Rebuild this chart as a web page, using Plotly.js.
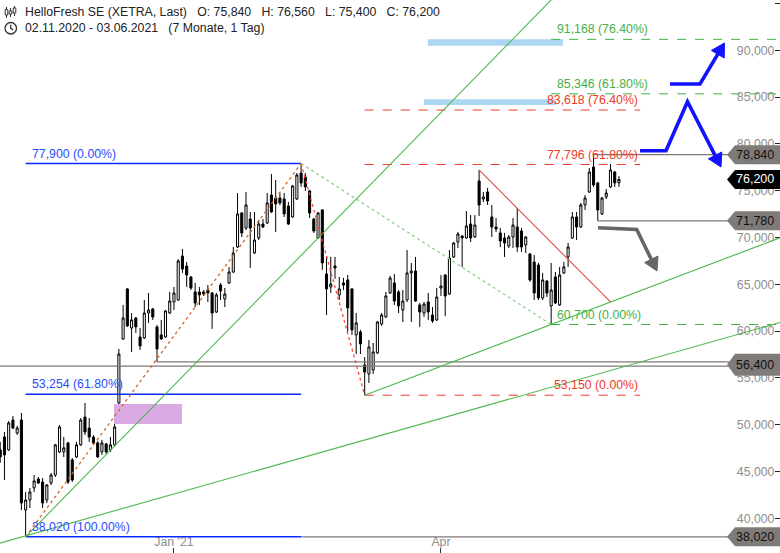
<!DOCTYPE html>
<html><head><meta charset="utf-8">
<script src="https://cdn.plot.ly/plotly-3.0.1.min.js"></script>
<style>html,body{margin:0;padding:0;background:#fff}#chart{width:780px;height:553px}</style>
</head><body><div id="chart"></div>
<script>
// ---- data (EUR) ----
const dates = [
'2020-11-02','2020-11-03','2020-11-04','2020-11-05','2020-11-06','2020-11-09','2020-11-10','2020-11-11','2020-11-12','2020-11-13',
'2020-11-16','2020-11-17','2020-11-18','2020-11-19','2020-11-20','2020-11-23','2020-11-24','2020-11-25','2020-11-26','2020-11-27','2020-11-30',
'2020-12-01','2020-12-02','2020-12-03','2020-12-04','2020-12-07','2020-12-08','2020-12-09','2020-12-10','2020-12-11',
'2020-12-14','2020-12-15','2020-12-16','2020-12-17','2020-12-18','2020-12-21','2020-12-22','2020-12-23','2020-12-28','2020-12-29','2020-12-30',
'2021-01-04','2021-01-05','2021-01-06','2021-01-07','2021-01-08','2021-01-11','2021-01-12','2021-01-13','2021-01-14','2021-01-15',
'2021-01-18','2021-01-19','2021-01-20','2021-01-21','2021-01-22','2021-01-25','2021-01-26','2021-01-27','2021-01-28','2021-01-29',
'2021-02-01','2021-02-02','2021-02-03','2021-02-04','2021-02-05','2021-02-08','2021-02-09','2021-02-10','2021-02-11','2021-02-12',
'2021-02-15','2021-02-16','2021-02-17','2021-02-18','2021-02-19','2021-02-22','2021-02-23','2021-02-24','2021-02-25','2021-02-26',
'2021-03-01','2021-03-02','2021-03-03','2021-03-04','2021-03-05','2021-03-08','2021-03-09','2021-03-10','2021-03-11','2021-03-12',
'2021-03-15','2021-03-16','2021-03-17','2021-03-18','2021-03-19','2021-03-22','2021-03-23','2021-03-24','2021-03-25','2021-03-26',
'2021-03-29','2021-03-30','2021-03-31',
'2021-04-01','2021-04-06','2021-04-07','2021-04-08','2021-04-09','2021-04-12','2021-04-13','2021-04-14','2021-04-15','2021-04-16',
'2021-04-19','2021-04-20','2021-04-21','2021-04-22','2021-04-23','2021-04-26','2021-04-27','2021-04-28','2021-04-29','2021-04-30',
'2021-05-03','2021-05-04','2021-05-05','2021-05-06','2021-05-07','2021-05-10','2021-05-11','2021-05-12','2021-05-13','2021-05-14',
'2021-05-17','2021-05-18','2021-05-19','2021-05-20','2021-05-21','2021-05-25','2021-05-26','2021-05-27','2021-05-28','2021-05-31',
'2021-06-01','2021-06-02','2021-06-03'];

const open = [47.30,48.68,47.30,50.50,49.11,50.50,40.89,41.95,43.24,44.20,
43.88,41.95,43.77,44.62,47.09,47.09,48.05,46.23,46.55,47.84,
50.82,49.64,48.68,48.05,47.09,47.94,47.30,47.84,52.32,59.16,
64.50,60.33,61.40,59.37,59.27,61.93,62.36,60.44,59.59,59.37,
61.93,63.11,63.32,68.02,66.95,65.78,64.18,64.18,64.18,64.39,
64.07,62.04,64.92,63.43,65.14,66.31,68.98,72.62,71.01,71.97,
68.34,69.95,71.44,71.55,74.54,74.22,74.22,74.11,73.37,72.19,
74.11,76.89,76.46,74.97,71.97,69.95,72.94,66.10,64.71,66.95,
63.86,65.14,65.46,64.50,59.59,59.91,56.38,55.42,55.84,57.66,
60.76,61.51,64.07,65.14,64.18,62.25,63.32,66.21,66.42,62.79,
61.93,63.11,61.72,61.19,64.60,65.99,63.96,67.92,69.52,70.16,
69.95,71.44,70.05,76.04,74.11,74.86,72.19,71.12,70.48,69.95,
69.09,70.05,71.12,70.69,69.20,68.24,67.38,67.06,63.54,65.35,
62.68,65.78,62.79,66.21,67.92,69.95,72.19,71.12,73.47,74.86,
77.53,75.82,72.51,74.33,75.40,77.00,75.84];

const high = [48.16,49.22,50.39,50.93,49.86,51.25,42.81,43.24,44.62,44.41,
44.30,43.66,44.84,47.94,49.97,48.68,48.16,46.44,48.16,50.71,
52.32,50.71,48.90,48.26,48.37,48.05,48.68,50.07,58.09,62.79,
64.60,61.93,61.51,60.33,63.32,64.07,62.47,60.65,61.19,62.25,
64.18,64.71,67.70,68.77,67.38,65.89,65.14,64.71,64.39,64.92,
64.18,64.07,65.14,64.60,66.85,68.98,74.75,72.72,74.86,72.72,
72.72,71.87,71.97,74.75,76.78,76.14,74.75,74.75,73.79,75.61,
76.89,77.90,76.89,75.08,72.08,72.72,73.04,68.02,67.92,67.92,
65.78,65.68,65.99,64.60,61.93,60.12,57.23,59.05,58.73,61.08,
61.93,64.18,65.89,66.10,64.39,64.39,68.66,67.28,67.92,63.00,
63.11,64.07,62.57,64.60,65.99,66.10,68.66,69.52,70.59,70.27,
72.83,72.40,72.40,77.21,74.86,75.29,73.47,72.08,71.01,70.48,
70.27,72.08,73.15,71.01,70.16,68.34,68.13,67.28,66.21,65.46,
67.28,66.31,66.85,67.38,69.41,72.72,72.72,73.69,74.54,77.42,
78.84,75.93,74.33,75.18,77.85,77.10,76.56];

const low = [45.91,44.09,47.19,49.54,48.90,40.89,38.02,41.10,42.81,43.66,
41.10,41.63,43.56,44.41,46.98,46.55,43.66,43.88,46.44,47.73,
48.90,48.16,47.84,46.44,46.77,46.87,47.09,47.62,52.21,59.05,
60.44,57.77,59.80,57.98,59.16,60.87,61.19,56.70,59.05,59.27,
61.83,62.25,63.21,66.21,64.71,64.39,62.57,62.79,63.75,63.11,
60.23,61.93,63.32,62.57,65.03,66.21,68.88,70.05,70.80,66.74,
68.24,69.73,71.01,71.44,72.62,70.59,73.47,72.19,71.33,72.08,
74.01,75.40,74.97,72.08,70.48,69.84,66.53,61.72,64.07,65.57,
63.32,64.39,59.91,59.59,57.55,57.55,53.15,54.46,55.42,57.55,
60.55,61.40,63.96,62.79,61.93,60.97,63.11,60.97,63.11,60.44,
61.51,61.19,60.87,61.08,63.75,61.61,63.86,67.81,68.88,66.85,
69.84,69.52,69.95,72.30,73.79,73.47,70.05,70.59,68.98,67.92,
68.88,68.88,68.45,68.45,68.34,65.25,63.32,63.32,63.32,63.64,
60.70,62.89,62.68,66.10,66.85,69.84,69.73,71.01,72.94,74.75,
75.40,71.78,72.40,74.11,75.29,75.40,75.40];

const close = [46.55,46.77,50.18,49.64,49.64,41.63,41.95,42.81,43.99,43.77,
41.63,43.56,44.62,47.84,49.75,47.52,43.88,44.09,47.84,50.50,
49.22,48.68,48.05,46.55,48.05,47.09,47.84,49.75,57.55,61.40,
60.55,61.19,60.44,58.41,61.93,62.25,61.51,58.09,59.16,62.15,
63.21,64.07,67.49,66.63,66.00,64.60,63.00,63.86,63.96,64.07,
61.93,63.86,64.28,63.96,66.31,68.34,72.51,70.48,73.47,71.01,
69.73,71.44,71.12,73.69,72.72,73.58,73.69,72.51,71.44,75.50,
76.68,75.82,75.40,72.62,70.69,72.62,67.28,64.50,65.03,66.74,
64.50,64.92,62.47,60.12,60.87,58.63,55.63,58.30,57.77,60.97,
61.72,63.75,65.67,63.21,62.68,63.21,66.21,66.42,63.21,62.04,
62.89,62.04,61.08,63.64,64.82,63.75,67.81,69.41,70.37,69.95,
71.23,69.95,71.33,73.47,74.33,73.90,71.12,70.91,69.62,69.41,
70.05,71.33,68.98,68.98,70.05,65.46,64.07,63.54,65.46,64.07,
64.39,63.00,65.99,66.85,68.98,72.19,71.12,73.47,74.22,76.99,
75.61,72.94,74.22,74.75,77.21,75.82,76.20];

const yTickVals = [40,45,50,55,60,65,70,75,80,85,90,95];
const xTickVals = ['2021-01-04','2021-04-01'];
const xTickText = ["Jan '21","Apr"];

// Fibonacci levels
const fibBlueLevels = [77.900, 53.254, 38.020];
const fibBlueText = ['77,900 (0.00%)','53,254 (61.80%)','38,020 (100.00%)'];
const fibRedLevels = [83.618, 77.796, 53.150];
const fibRedText = ['83,618 (76.40%)','77,796 (61.80%)','53,150 (0.00%)'];
const fibGreenLevels = [91.168, 85.346, 60.700];
const fibGreenText = ['91,168 (76.40%)','85,346 (61.80%)','60,700 (0.00%)'];

// right-side price marks
const markValues = [78.840, 76.200, 71.780, 56.400, 38.020];
const markText = ['78,840','76,200','71,780','56,400','38,020'];

const SP = '\u00a0\u00a0\u00a0';
const titleLine1 = 'HelloFresh SE (XETRA, Last)'+SP+'O: 75,840'+SP+'H: 76,560'+SP+'L: 75,400'+SP+'C: 76,200';
const titleLine2 = '02.11.2020 - 03.06.2021'+SP+'(7 Monate, 1 Tag)';

// ---- anchors (candle indices) ----
const iLow1 = 6, iHigh1 = 71, iLow2 = 86, iLow3 = 130, iPeak2 = 113, iHi = 140, iLo = 141, iGapLo = 37;
const W = 780, H = 553;
const xR = [-0.05, 184.0];
const yR = [36.29, 95.37];
const BOX_END = 173;

const FONT = 'Liberation Sans, Arial, sans-serif';
const shapes = [];
const ann = [];

function seg(x0,y0,x1,y1,color,dash,width,layer){
  shapes.push({type:'line',xref:'x',yref:'y',x0,y0,x1,y1,layer:layer||'above',
    line:{color,dash:dash||'solid',width:width||1}});
}
function P(x,y){ return (x/W).toFixed(5)+','+(1-y/H).toFixed(5); }
function ppath(pts,closed){ return 'M'+pts.map(p=>P(p[0],p[1])).join('L')+(closed?'Z':''); }
function paperPath(pts,color,width,fill){
  const s = {type:'path',xref:'paper',yref:'paper',path:ppath(pts,!!fill),layer:'above',
    line:{color,width:width}};
  if(fill){s.fillcolor=fill;}
  shapes.push(s);
}

// rectangles (gap box, target bars)
shapes.push({type:'rect',xref:'x',yref:'y',x0:26.85,x1:42.9,y0:high[27],y1:low[28],
  fillcolor:'#dba9e3',line:{width:0},layer:'below'});
shapes.push({type:'rect',xref:'x',yref:'y',x0:100.9,x1:132.8,y0:90.49,y1:91.18,
  fillcolor:'#abd7f3',line:{width:0},layer:'below'});
shapes.push({type:'rect',xref:'x',yref:'y',x0:100.0,x1:131.2,y0:84.16,y1:84.77,
  fillcolor:'#abd7f3',line:{width:0},layer:'below'});

// gray horizontal lines
const gray = '#7d7977';
seg(-1,56.25,BOX_END,56.25,gray,'solid',1.2);
seg(iGapLo,low[iGapLo],BOX_END,low[iGapLo],gray,'solid',1.2);
seg(iHi,high[iHi],BOX_END,high[iHi],gray,'solid',1.2);
seg(iLo,low[iLo],BOX_END,low[iLo],gray,'solid',1.2);
seg(iHigh1,low[iLow1],BOX_END,low[iLow1],gray,'solid',1.2);

// Fibonacci blue (retracement)
fibBlueLevels.forEach((v,k)=>{
  seg(iLow1,v,iHigh1,v,'#0a2aff','solid',1.4);
  ann.push({xref:'x',yref:'y',x:iLow1,y:v,xshift:4,yshift:1,xanchor:'left',yanchor:'bottom',
    text:fibBlueText[k],showarrow:false,font:{family:FONT,size:12.3,color:'#2a4bff'}});
});
// Fibonacci red (projection)
fibRedLevels.forEach((v,k)=>{
  seg(iLow2,v,151,v,'#f03a2a','dash',1);
  ann.push({xref:'x',yref:'y',x:151,y:v,xanchor:'right',yanchor:'bottom',yshift:1,
    text:fibRedText[k],showarrow:false,font:{family:FONT,size:12.3,color:'#ef3a28'}});
});
// Fibonacci green (projection)
fibGreenLevels.forEach((v,k)=>{
  seg(iLow3,v,190,v,'#3cb043','dash',1);
  ann.push({xref:'x',yref:'y',x:iLow3,y:v,xshift:4,xanchor:'left',yanchor:'bottom',yshift:1,
    text:fibGreenText[k],showarrow:false,font:{family:FONT,size:12.3,color:'#45b048'}});
});

// dotted swing lines
seg(iLow1,low[iLow1],iHigh1,high[iHigh1],'#d2692e','dot',1.3);
seg(iHigh1,high[iHigh1],iLow2,low[iLow2],'#ff4a3a','dot',1.3);
seg(iHigh1,high[iHigh1],iLow3,low[iLow3],'#8ad68a','dot',1.3);

// trend lines
seg(iLow1,low[iLow1],132,96.3,'#4cb84c','solid',1.1);
seg(-1,37.22,186,61.17,'#4cb84c','solid',1.1);
const s3 = (low[iLow3]-low[iLow2])/(iLow3-iLow2);
seg(iLow2,low[iLow2],190,low[iLow2]+s3*(190-iLow2),'#4cb84c','solid',1.1);
seg(iPeak2,high[iPeak2],144,63.11,'#e04a44','solid',1.1);

// arrows (drawn annotations, pixel positions)
const BLUE = '#1212ff';
paperPath([[640,150.7],[666,150.7],[687.5,101.7],[715.1,155.4]],BLUE,3.6);
paperPath([[721,167],[708.4,158.8],[721.8,152.0]],BLUE,1,BLUE);
paperPath([[670,84],[700,84],[717.8,54.2]],BLUE,3.6);
paperPath([[724.5,43],[724.2,58.0],[711.4,50.4]],BLUE,1,BLUE);
paperPath([[598,227.7],[636.7,229.5],[651.3,259.3]],'#666666',3.6);
paperPath([[657,271],[644.6,262.6],[658.0,256.0]],'#666666',1,'#666666');

// price mark boxes
markValues.forEach((v,k)=>{
  const isLast = k===1;
  const hh = (k===3)?11:9.5;
  shapes.push({type:'path',xref:'paper',yref:'y',xsizemode:'pixel',ysizemode:'pixel',
    xanchor:1,yanchor:v,path:`M-53,0L-45,${hh}L0,${hh}L0,-${hh}L-45,-${hh}Z`,
    fillcolor:isLast?'#000000':'#7f7b79',line:{width:0},layer:'above'});
  ann.push({xref:'paper',yref:'y',x:755/W,y:v,xanchor:'center',yanchor:'middle',
    text:markText[k],showarrow:false,font:{family:FONT,size:12.5,color:isLast?'#ffffff':'#111111'}});
});

// header
ann.push({xref:'paper',yref:'paper',x:23/W,y:1-12.5/H,xanchor:'left',yanchor:'middle',
  text:titleLine1,showarrow:false,font:{family:FONT,size:12.3,color:'#222'}});
ann.push({xref:'paper',yref:'paper',x:23/W,y:1-28.5/H,xanchor:'left',yanchor:'middle',
  text:titleLine2,showarrow:false,font:{family:FONT,size:12.3,color:'#222'}});
// candle icon
[[6.5,7,18,9.5,15],[10.5,8,17,11,14],[14.5,6,16,8,13]].forEach(c=>{
  paperPath([[c[0],c[1]],[c[0],c[2]]],'#333',1);
  paperPath([[c[0]-1.3,c[3]],[c[0]+1.3,c[3]],[c[0]+1.3,c[4]],[c[0]-1.3,c[4]]],'#333',1,'#ffffff');
});
// clock icon
shapes.push({type:'circle',xref:'paper',yref:'paper',x0:5/W,x1:16.5/W,y0:1-34/H,y1:1-22.5/H,
  line:{color:'#333',width:1.3},layer:'above'});
paperPath([[10.75,24.8],[10.75,28.3],[13.3,30]],'#333',1.3);

const trace = {
  type:'candlestick', x:dates, open:open, high:high, low:low, close:close,
  increasing:{line:{color:'#000000',width:1},fillcolor:'#ffffff'},
  decreasing:{line:{color:'#000000',width:1},fillcolor:'#000000'},
  whiskerwidth:0, hoverinfo:'skip', showlegend:false
};

const layout = {
  width:W, height:H, margin:{l:0,r:0,t:0,b:0,pad:0},
  paper_bgcolor:'#ffffff', plot_bgcolor:'#ffffff',
  separators:',.', showlegend:false,
  font:{family:FONT,size:12,color:'#888'},
  xaxis:{type:'category', range:xR, tickmode:'array', tickvals:xTickVals, ticktext:xTickText,
    ticks:'inside', ticklen:5, tickcolor:'#333', tickwidth:1,
    ticklabelposition:'inside', ticklabelstandoff:-1, tickfont:{family:FONT,size:12.3,color:'#8e8e8e'},
    showgrid:false, zeroline:false, showline:false, rangeslider:{visible:false}, fixedrange:true},
  yaxis:{side:'right', range:yR, tickmode:'array', tickvals:yTickVals, tickformat:'.3f',
    ticks:'inside', ticklen:5, tickcolor:'#222', tickwidth:1,
    ticklabelposition:'inside', tickfont:{family:FONT,size:12.3,color:'#8e8e8e'},
    showgrid:false, zeroline:false, showline:false, fixedrange:true},
  shapes:shapes, annotations:ann
};

Plotly.newPlot('chart',[trace],layout,{staticPlot:true,displayModeBar:false});
</script></body></html>
